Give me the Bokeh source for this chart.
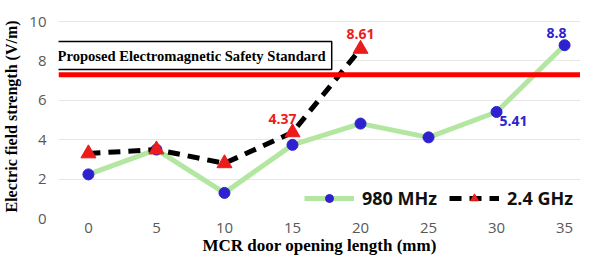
from bokeh.plotting import figure
from bokeh.models import ColumnDataSource, Span, Label, Legend, LegendItem, FixedTicker, Range1d
from bokeh.embed import file_html
from bokeh.resources import INLINE

# ---- data ----
opening_mm = [0, 5, 10, 15, 20, 25, 30, 35]
field_980 = [2.24, 3.5, 1.3, 3.74, 4.82, 4.12, 5.41, 8.8]
opening_24 = [0, 5, 10, 15, 20]
field_24 = [3.3, 3.5, 2.8, 4.37, 8.61]
safety_standard = 7.3
y_ticks = [0, 2, 4, 6, 8, 10]

label_idx_980 = [6, 7]
label_idx_24 = [3, 4]

GREEN = "#b3e6a1"
BLUE = "#2e22d0"
RED = "#ec1c1c"
TICK_COLOR = "#595959"

p = figure(width=580, height=257, output_backend="svg", toolbar_location=None,
           x_range=Range1d(-2.2, 36.17), y_range=Range1d(0, 10.36),
           min_border_left=57, min_border_right=0, min_border_top=14, min_border_bottom=10)
p.outline_line_color = None
p.background_fill_color = "white"

# axes
p.xaxis.ticker = FixedTicker(ticks=opening_mm)
p.yaxis.ticker = FixedTicker(ticks=y_ticks)
for ax in (p.xaxis[0], p.yaxis[0]):
    ax.axis_line_color = None
    ax.major_tick_line_color = None
    ax.minor_tick_line_color = None
    ax.major_tick_out = 0
    ax.major_tick_in = 0
    ax.minor_tick_out = 0
    ax.major_label_text_font = "Open Sans"
    ax.major_label_text_font_size = "15px"
    ax.major_label_text_color = TICK_COLOR
    ax.axis_label_text_font = "Liberation Serif"
    ax.axis_label_text_font_style = "bold"
    ax.axis_label_text_color = "black"
p.xaxis.axis_label = "MCR door opening length (mm)"
p.yaxis.axis_label = "Electric field strength (V/m)"
p.xaxis.axis_label_text_font_size = "17px"
p.yaxis.axis_label_text_font_size = "16px"
p.xaxis.major_label_standoff = 4
p.yaxis.major_label_standoff = 12
p.xaxis.axis_label_standoff = 0
p.yaxis.axis_label_standoff = 6

p.xgrid.grid_line_color = None
p.ygrid.grid_line_color = "#e6e6e6"
p.ygrid.grid_line_width = 1

# safety standard line
p.add_layout(Span(location=safety_standard, dimension="width", line_color="#ff0000", line_width=5))

src980 = ColumnDataSource(dict(x=opening_mm, y=field_980))
src24 = ColumnDataSource(dict(x=opening_24, y=field_24))

l980 = p.line("x", "y", source=src980, line_color=GREEN, line_width=5)
m980 = p.scatter("x", "y", source=src980, marker="circle", size=11, fill_color=BLUE, line_color=BLUE)
l24 = p.line("x", "y", source=src24, line_color="black", line_width=5, line_dash="12 8")
m24 = p.scatter("x", "y", source=src24, marker="triangle", size=15, fill_color=RED, line_color=RED)

# data labels
lab980 = ColumnDataSource(dict(
    x=[opening_mm[i] for i in label_idx_980],
    y=[field_980[i] for i in label_idx_980],
    t=[f"{field_980[i]:g}" for i in label_idx_980],
    dx=[17, -8], dy=[9, -12]))
p.text("x", "y", text="t", source=lab980, x_offset="dx", y_offset="dy",
       text_color=BLUE, text_font_size="14px", text_font_style="bold",
       text_align="center", text_baseline="middle", text_font={"value": "Open Sans"})
lab24 = ColumnDataSource(dict(
    x=[opening_24[i] for i in label_idx_24],
    y=[field_24[i] for i in label_idx_24],
    t=[f"{field_24[i]:g}" for i in label_idx_24],
    dx=[-10, 0], dy=[-13, -15]))
p.text("x", "y", text="t", source=lab24, x_offset="dx", y_offset="dy",
       text_color=RED, text_font_size="14px", text_font_style="bold",
       text_align="center", text_baseline="middle", text_font={"value": "Open Sans"})

# standard label box
p.add_layout(Label(x=-7, y=163, x_units="screen", y_units="screen",
                   text="Proposed Electromagnetic Safety Standard",
                   text_font="Liberation Serif", text_font_style="bold", text_font_size="14.6px",
                   text_color="black", text_align="left", text_baseline="middle",
                   border_line_color="black", border_line_width=1.5,
                   background_fill_color="white", padding=6))

legend = Legend(items=[LegendItem(label="980 MHz", renderers=[l980, m980]),
                       LegendItem(label="2.4 GHz", renderers=[l24, m24])],
                orientation="horizontal", location=(246, 8), padding=2, margin=0,
                glyph_width=50, glyph_height=20, spacing=12, label_standoff=8,
                label_text_font="Open Sans", label_text_font_style="bold",
                label_text_font_size="18px", label_text_color="#111111",
                background_fill_alpha=0, border_line_color=None)
p.add_layout(legend)

open("out.html", "w").write(file_html(p, INLINE))
